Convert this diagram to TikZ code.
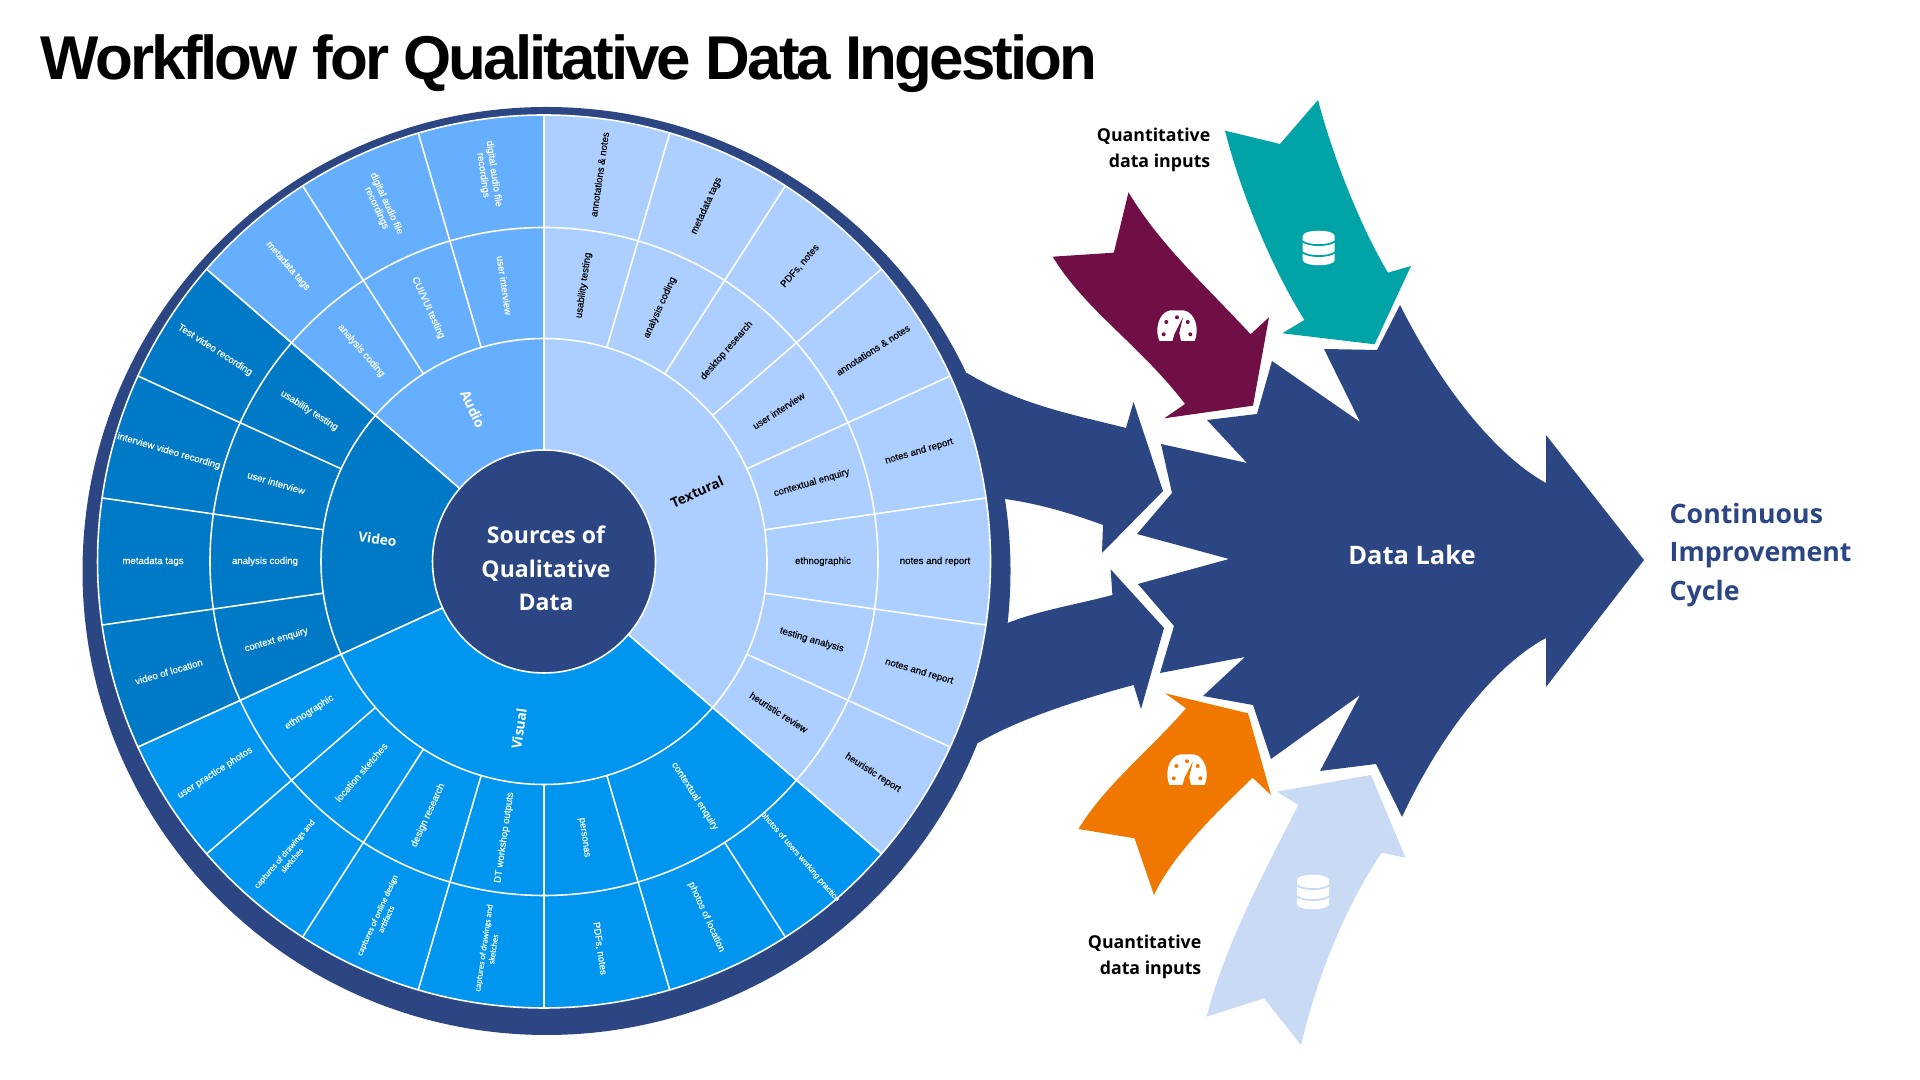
\documentclass[tikz,border=0pt]{standalone}
\usepackage{fontspec}
\setmainfont{Liberation Sans}
\newfontfamily\headfont{Open Sans}
\newfontfamily\capfont[FakeBold=0.3]{Carlito}
\newfontfamily\slicefont[FakeBold=0.4]{Liberation Sans}
\definecolor{navyblue}{HTML}{2C4583}
\definecolor{textblue}{HTML}{ADCFFF}
\definecolor{audioblue}{HTML}{66AFFF}
\definecolor{videoblue}{HTML}{007AC6}
\definecolor{visualblue}{HTML}{0096F0}
\definecolor{tealflow}{HTML}{00A3A6}
\definecolor{maroonflow}{HTML}{700F45}
\definecolor{orangeflow}{HTML}{F07800}
\definecolor{paleflow}{HTML}{C8DAF4}
\tikzset{
	wedgeline/.style={white, line width=0.45pt},
	darklabel/.style={text=black, align=center, inner sep=0pt, font=\slicefont\fontsize{2.75}{3.1}\selectfont},
	lightlabel/.style={text=white, align=center, inner sep=0pt, font=\slicefont\fontsize{2.75}{3.1}\selectfont},
	tinylabel/.style={text=white, align=center, inner sep=0pt, font=\capfont\fontsize{2.45}{2.8}\selectfont},
	grouplabel/.style={align=center, inner sep=0pt, font=\headfont\bfseries\fontsize{3.9}{4.5}\selectfont},
	flowlabel/.style={text=black, align=right, inner sep=0pt, font=\headfont\bfseries\fontsize{5.05}{7.6}\selectfont},
	pics/gaugeicon/.style={code={
		\fill[white] (-0.175,-0.15) -- (0.175,-0.15) .. controls (0.225,-0.05) and (0.19,0.135) .. (0.07,0.155)
		-- (-0.07,0.155) .. controls (-0.19,0.135) and (-0.225,-0.05) .. (-0.175,-0.15) -- cycle;
		\fill[#1] (-0.107,0.04) circle (0.02);
		\fill[#1] (0,0.087) circle (0.02);
		\fill[#1] (0.107,0.04) circle (0.02);
		\fill[#1] (-0.133,-0.083) circle (0.02);
		\fill[#1] (0.133,-0.083) circle (0.02);
		\fill[#1] (0.06,0.09) -- (0.022,-0.07) -- (0.04,-0.15) -- (-0.045,-0.15) -- (-0.025,-0.08) -- cycle;
	}},
	pics/dbicon/.style={code={
		\fill[white] (-0.16,0.12) .. controls (-0.16,0.19) and (0.16,0.19) .. (0.16,0.12)
		-- (0.16,-0.12) .. controls (0.16,-0.19) and (-0.16,-0.19) .. (-0.16,-0.12) -- cycle;
		\draw[#1, line width=0.5pt] (-0.17,0.07) .. controls (-0.10,0.015) and (0.10,0.015) .. (0.17,0.07);
		\draw[#1, line width=0.5pt] (-0.17,-0.04) .. controls (-0.10,-0.095) and (0.10,-0.095) .. (0.17,-0.04);
	}},
}
\begin{document}
\begin{tikzpicture}
	\useasboundingbox (0,0) rectangle (19.2,10.8);
	
	% --- TITLE ---
	\node[anchor=base west, inner sep=0pt, font=\bfseries\fontsize{17.6}{20}\selectfont\addfontfeatures{LetterSpace=-4.6}] (title) at (0.40,10.007) {Workflow for Qualitative Data Ingestion};
	
	% --- FLOWS OUT OF THE WHEEL ---
	\fill[navyblue] (9.67,7.07) .. controls (10.20,6.75) and (10.75,6.65) .. (11.26,6.52) -- (11.335,6.78) -- (11.63,5.89) -- (11.02,5.27) -- (11.03,5.55)
	.. controls (10.70,5.67) and (10.40,5.76) .. (10.05,5.81) -- (9.5,5.9) -- (9.5,7.0) -- cycle;
	\fill[navyblue] (11.106,5.107) -- (11.64,4.52) -- (11.41,3.71) -- (11.336,3.95)
	.. controls (10.85,3.82) and (10.20,3.62) .. (9.78,3.37) -- (9.5,3.6) -- (9.5,4.5) -- (10.05,4.56)
	.. controls (10.40,4.70) and (10.75,4.75) .. (11.124,4.85) -- cycle;
	
	% Data lake arrow
	\fill[navyblue] (12.29,5.21) -- (11.37,5.46) -- (11.72,5.87) -- (11.61,6.36) -- (12.47,6.17) -- (12.07,6.60) -- (12.57,6.66)
	-- (12.72,7.19) -- (13.60,6.58) -- (13.24,7.31) -- (13.77,7.30) -- (14.00,7.75)
	.. controls (14.40,6.95) and (14.95,6.25) .. (15.46,5.97) -- (15.46,6.45) -- (16.44,5.20) -- (15.46,3.93) -- (15.46,4.42)
	.. controls (14.95,4.15) and (14.40,3.45) .. (14.02,2.63) -- (13.76,3.16) -- (13.20,3.09) -- (13.60,3.85) -- (12.71,3.21)
	-- (12.53,3.75) -- (12.03,3.84) -- (12.45,4.23) -- (11.60,4.07) -- (11.74,4.54) -- (11.38,4.96) -- cycle;
	\node[text=white, inner sep=0pt, font=\headfont\bfseries\fontsize{7.25}{8}\selectfont] (lake) at (14.12,5.25) {Data Lake};
	\node[anchor=west, text=navyblue, align=left, inner sep=0pt, font=\headfont\bfseries\fontsize{7.6}{10.9}\selectfont] (cycle) at (16.69,5.25) {Continuous\\Improvement\\Cycle};
	
	% --- QUANTITATIVE INPUTS ---
	\fill[maroonflow] (11.285,8.877) -- (11.138,8.273) -- (10.527,8.233) .. controls (10.85,7.70) and (11.40,7.35) .. (11.85,6.76)
	-- (11.643,6.617) -- (12.53,6.743) -- (12.69,7.627) -- (12.506,7.457) .. controls (12.05,7.95) and (11.60,8.35) .. (11.285,8.877) -- cycle;
	\fill[tealflow] (13.18,9.80) -- (12.80,9.36) -- (12.25,9.493) .. controls (12.40,8.90) and (12.70,8.15) .. (13.044,7.60)
	-- (12.823,7.467) -- (13.746,7.357) -- (14.11,8.14) -- (13.88,8.073) .. controls (13.65,8.45) and (13.35,9.15) .. (13.18,9.80) -- cycle;
	\fill[orangeflow] (11.65,3.867) -- (12.48,3.667) -- (12.71,2.85) -- (12.525,3.023) .. controls (12.25,2.75) and (11.75,2.30) .. (11.54,1.85)
	-- (11.345,2.417) -- (10.785,2.51) .. controls (11.05,2.95) and (11.50,3.30) .. (11.86,3.717) -- cycle;
	\fill[paleflow] (12.768,2.883) -- (13.71,3.05) -- (14.054,2.223) -- (13.815,2.273) .. controls (13.50,1.80) and (13.20,1.15) .. (13.01,0.35)
	-- (12.64,0.817) -- (12.066,0.633) .. controls (12.25,1.35) and (12.65,2.10) .. (12.984,2.75) -- cycle;
	
	% Icons on the inputs
	\pic at (11.77,7.54) {gaugeicon=maroonflow};
	\pic at (11.87,3.10) {gaugeicon=orangeflow};
	\pic at (13.187,8.32) {dbicon=tealflow};
	\pic at (13.13,1.88) {dbicon=paleflow};
	
	\node[flowlabel, anchor=east] (inputsup) at (12.11,9.30) {Quantitative\\data inputs};
	\node[flowlabel, anchor=east] (inputsdown) at (12.02,1.23) {Quantitative\\data inputs};
	
	% --- WHEEL ---
	\fill[navyblue] (5.465,5.09) circle (4.64);
	
	\begin{scope}[shift={(5.44,5.185)}]
		% Four groups as pie parts
		\draw[wedgeline, fill=textblue] (0,0) -- (90:4.465) arc (90:-40.91:4.465) -- cycle;
		\draw[wedgeline, fill=visualblue] (0,0) -- (-40.91:4.465) arc (-40.91:-155.45:4.465) -- cycle;
		\draw[wedgeline, fill=videoblue] (0,0) -- (-155.45:4.465) arc (-155.45:-220.91:4.465) -- cycle;
		\draw[wedgeline, fill=audioblue] (0,0) -- (139.09:4.465) arc (139.09:90:4.465) -- cycle;
		
		% Ring borders
		\draw[wedgeline] (0,0) circle (2.23);
		\draw[wedgeline] (0,0) circle (3.34);
		
		% Spokes
		\draw[wedgeline] (73.64:2.23) -- (73.64:4.465);
		\draw[wedgeline] (57.27:2.23) -- (57.27:4.465);
		\draw[wedgeline] (40.91:2.23) -- (40.91:4.465);
		\draw[wedgeline] (24.55:2.23) -- (24.55:4.465);
		\draw[wedgeline] (8.18:2.23) -- (8.18:4.465);
		\draw[wedgeline] (-8.18:2.23) -- (-8.18:4.465);
		\draw[wedgeline] (-24.55:2.23) -- (-24.55:4.465);
		\draw[wedgeline] (-57.27:3.34) -- (-57.27:4.465);
		\draw[wedgeline] (-73.64:2.23) -- (-73.64:4.465);
		\draw[wedgeline] (-90:2.23) -- (-90:4.465);
		\draw[wedgeline] (-106.36:2.23) -- (-106.36:4.465);
		\draw[wedgeline] (-122.73:2.23) -- (-122.73:4.465);
		\draw[wedgeline] (-139.09:2.23) -- (-139.09:4.465);
		\draw[wedgeline] (-171.82:2.23) -- (-171.82:4.465);
		\draw[wedgeline] (171.82:2.23) -- (171.82:4.465);
		\draw[wedgeline] (155.45:2.23) -- (155.45:4.465);
		\draw[wedgeline] (122.73:2.23) -- (122.73:4.465);
		\draw[wedgeline] (106.36:2.23) -- (106.36:4.465);
		
		% Hub
		\draw[wedgeline, fill=navyblue] (0,0) circle (1.115);
		\node[text=white, align=center, inner sep=0pt, font=\headfont\bfseries\fontsize{6.55}{9.5}\selectfont] (hub) at (0.02,-0.07) {Sources of\\Qualitative\\Data};
		
		% Group names
		\node[grouplabel, text=black, rotate=24.4] (textural) at (24.4:1.68) {Textural};
		\node[grouplabel, text=white, rotate=81.8] (visual) at (-98.5:1.69) {Visual};
		\node[grouplabel, text=white, rotate=-7.7] (video) at (172.3:1.68) {Video};
		\node[grouplabel, text=white, rotate=-65] (audio) at (115:1.68) {Audio};
		
		% Textural, middle then outer ring
		\node[darklabel, rotate=81.82] (midtexta) at (81.82:2.79) {usability testing};
		\node[darklabel, rotate=65.45] (midtextb) at (65.45:2.79) {analysis coding};
		\node[darklabel, rotate=49.09] (midtextc) at (49.09:2.79) {desktop research};
		\node[darklabel, rotate=32.73] (midtextd) at (32.73:2.79) {user interview};
		\node[darklabel, rotate=16.36] (midtexte) at (16.36:2.79) {contextual enquiry};
		\node[darklabel] (midtextf) at (0:2.79) {ethnographic};
		\node[darklabel, rotate=-16.36] (midtextg) at (-16.36:2.79) {testing analysis};
		\node[darklabel, rotate=-32.73] (midtexth) at (-32.73:2.79) {heuristic review};
		\node[darklabel, rotate=81.82] (outtexta) at (81.82:3.91) {annotations \& notes};
		\node[darklabel, rotate=65.45] (outtextb) at (65.45:3.91) {metadata tags};
		\node[darklabel, rotate=49.09] (outtextc) at (49.09:3.91) {PDFs, notes};
		\node[darklabel, rotate=32.73] (outtextd) at (32.73:3.91) {annotations \& notes};
		\node[darklabel, rotate=16.36] (outtexte) at (16.36:3.91) {notes and report};
		\node[darklabel] (outtextf) at (0:3.91) {notes and report};
		\node[darklabel, rotate=-16.36] (outtextg) at (-16.36:3.91) {notes and report};
		\node[darklabel, rotate=-32.73] (outtexth) at (-32.73:3.91) {heuristic report};
		
		% Visual
		\node[lightlabel, rotate=-57.27] (midvisa) at (-57.27:2.79) {contextual enquiry};
		\node[lightlabel, rotate=-81.82] (midvisb) at (-81.82:2.79) {personas};
		\node[lightlabel, rotate=81.82] (midvisc) at (-98.18:2.79) {DT workshop outputs};
		\node[lightlabel, rotate=65.45] (midvisd) at (-114.55:2.79) {design research};
		\node[lightlabel, rotate=49.09] (midvise) at (-130.91:2.79) {location sketches};
		\node[lightlabel, rotate=32.73] (midvisf) at (-147.27:2.79) {ethnographic};
		\node[lightlabel, font=\slicefont\fontsize{2.3}{2.8}\selectfont, rotate=-49.09] (outvisa) at (-49.09:3.91) {photos of users working practice};
		\node[lightlabel, rotate=-65.45] (outvisb) at (-65.45:3.91) {photos of location};
		\node[lightlabel, rotate=-81.82] (outvisc) at (-81.82:3.91) {PDFs, notes};
		\node[tinylabel, rotate=81.82] (outvisd) at (-98.18:3.91) {captures of drawings and\\sketches};
		\node[tinylabel, rotate=65.45] (outvise) at (-114.55:3.91) {captures of online design\\artifacts};
		\node[tinylabel, rotate=49.09] (outvisf) at (-130.91:3.91) {captures of drawings and\\sketches};
		\node[lightlabel, rotate=32.73] (outvisg) at (-147.27:3.91) {user practice photos};
		
		% Video
		\node[lightlabel, rotate=16.36] (midvida) at (-163.64:2.79) {context enquiry};
		\node[lightlabel] (midvidb) at (180:2.79) {analysis coding};
		\node[lightlabel, rotate=-16.36] (midvidc) at (163.64:2.79) {user interview};
		\node[lightlabel, rotate=-32.73] (midvidd) at (147.27:2.79) {usability testing};
		\node[lightlabel, rotate=16.36] (outvida) at (-163.64:3.91) {video of location};
		\node[lightlabel] (outvidb) at (180:3.91) {metadata tags};
		\node[lightlabel, rotate=-16.36] (outvidc) at (163.64:3.91) {interview video recording};
		\node[lightlabel, rotate=-32.73] (outvidd) at (147.27:3.91) {Test video recording};
		
		% Audio
		\node[lightlabel, rotate=-49.09] (midauda) at (130.91:2.79) {analysis coding};
		\node[lightlabel, rotate=-65.45] (midaudb) at (114.55:2.79) {CUI/VUI testing};
		\node[lightlabel, rotate=-81.82] (midaudc) at (98.18:2.79) {user interview};
		\node[lightlabel, rotate=-49.09] (outauda) at (130.91:3.91) {metadata tags};
		\node[lightlabel, rotate=-65.45] (outaudb) at (114.55:3.91) {digital audio file\\recordings};
		\node[lightlabel, rotate=-81.82] (outaudc) at (98.18:3.91) {digital audio file\\recordings};
	\end{scope}
\end{tikzpicture}
\end{document}
